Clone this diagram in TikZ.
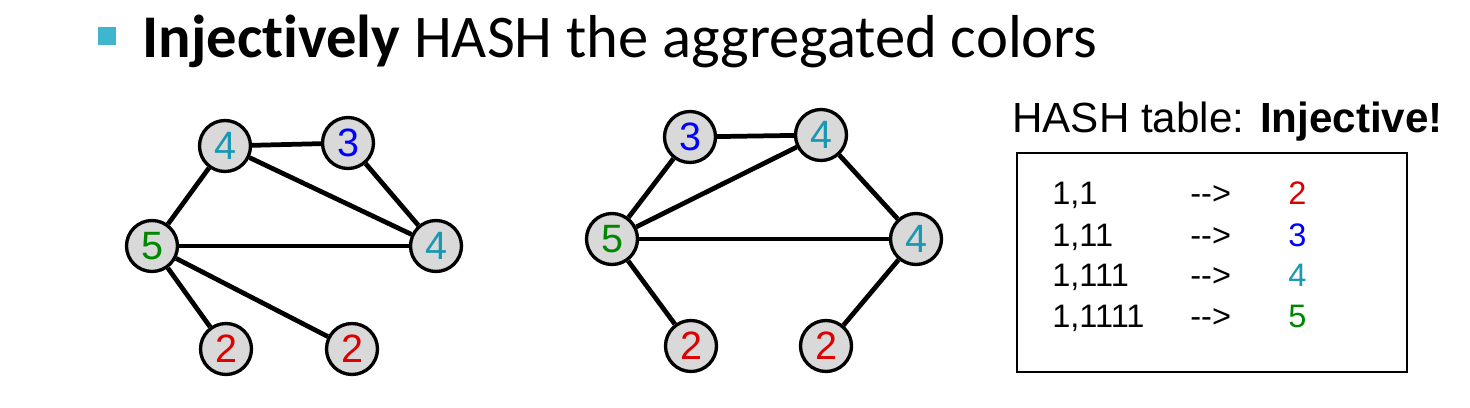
\documentclass[tikz,border=0pt]{standalone}
\usepackage{fontspec}
\setmainfont{Liberation Sans}
\newfontfamily\calibri{Carlito}[Ligatures=NoCommon]
\usetikzlibrary{positioning}
\definecolor{bulletblue}{RGB}{64,182,206}
\definecolor{hred}{RGB}{220,0,0}
\definecolor{hblue}{RGB}{0,0,255}
\definecolor{hteal}{RGB}{25,152,178}
\definecolor{hgreen}{RGB}{0,135,0}

\begin{document}
\begin{tikzpicture}[x=0.02cm,y=-0.02cm,
    vert/.style={circle,draw,fill=black!15,line width=1.9pt,minimum size=1.02cm,inner sep=0pt,font=\fontsize{22.5}{24}\selectfont},
    edge/.style={line width=2.7pt},
    row/.style={anchor=base west,inner sep=0pt,font=\fontsize{18.5}{20}\selectfont}]
        \useasboundingbox (0,0) rectangle (1470,408);
        % heading
        \fill[bulletblue] (98,27) rectangle (116,45);
        \node[anchor=base west,inner sep=0pt,font=\calibri\fontsize{34.5}{40}\selectfont] (head) at (142,58) {\textbf{Injectively} HASH the aggregated colors};
        % left graph
        \node[vert,text=hteal] (lf) at (225,146) {4};
        \node[vert,text=hblue] (lt) at (348,143) {3};
        \node[vert,text=hgreen] (lv) at (152,246) {5};
        \node[vert,text=hteal] (lr) at (436,246) {4};
        \node[vert,text=hred] (la) at (226,349) {2};
        \node[vert,text=hred] (lb) at (352,349) {2};
        \draw[edge] (lf) -- (lt);
        \draw[edge] (lf) -- (lr);
        \draw[edge] (lt) -- (lr);
        \draw[edge] (lv) -- (lf);
        \draw[edge] (lv) -- (lr);
        \draw[edge] (lv) -- (la);
        \draw[edge] (lv) -- (lb);
        % middle graph
        \node[vert,text=hblue] (mt) at (690,137) {3};
        \node[vert,text=hteal] (mf) at (821,135) {4};
        \node[vert,text=hgreen] (mv) at (612,239) {5};
        \node[vert,text=hteal] (mr) at (916,239) {4};
        \node[vert,text=hred] (ma) at (691,346) {2};
        \node[vert,text=hred] (mb) at (826,346) {2};
        \draw[edge] (mt) -- (mf);
        \draw[edge] (mt) -- (mv);
        \draw[edge] (mv) -- (mf);
        \draw[edge] (mv) -- (mr);
        \draw[edge] (mf) -- (mr);
        \draw[edge] (mv) -- (ma);
        \draw[edge] (mr) -- (mb);
        % hash table
        \node[anchor=base west,inner sep=0pt,font=\fontsize{24}{26}\selectfont] (title) at (1012,133) {HASH table: \textbf{Injective!}};
        \draw[line width=1.3pt] (1017,153) rectangle (1407,372);
        \foreach \key/\val/\col/\y in {{1,1}/2/hred/205, {1,11}/3/hblue/247, {1,111}/4/hteal/287, {1,1111}/5/hgreen/328} {
            \node[row] (k\val) at (1052,\y) {\key};
            \node[row] (a\val) at (1190,\y) {-\kern0pt-\kern0pt>};
            \node[row,text=\col] (v\val) at (1288,\y) {\val};
        }
    \end{tikzpicture}
\end{document}
